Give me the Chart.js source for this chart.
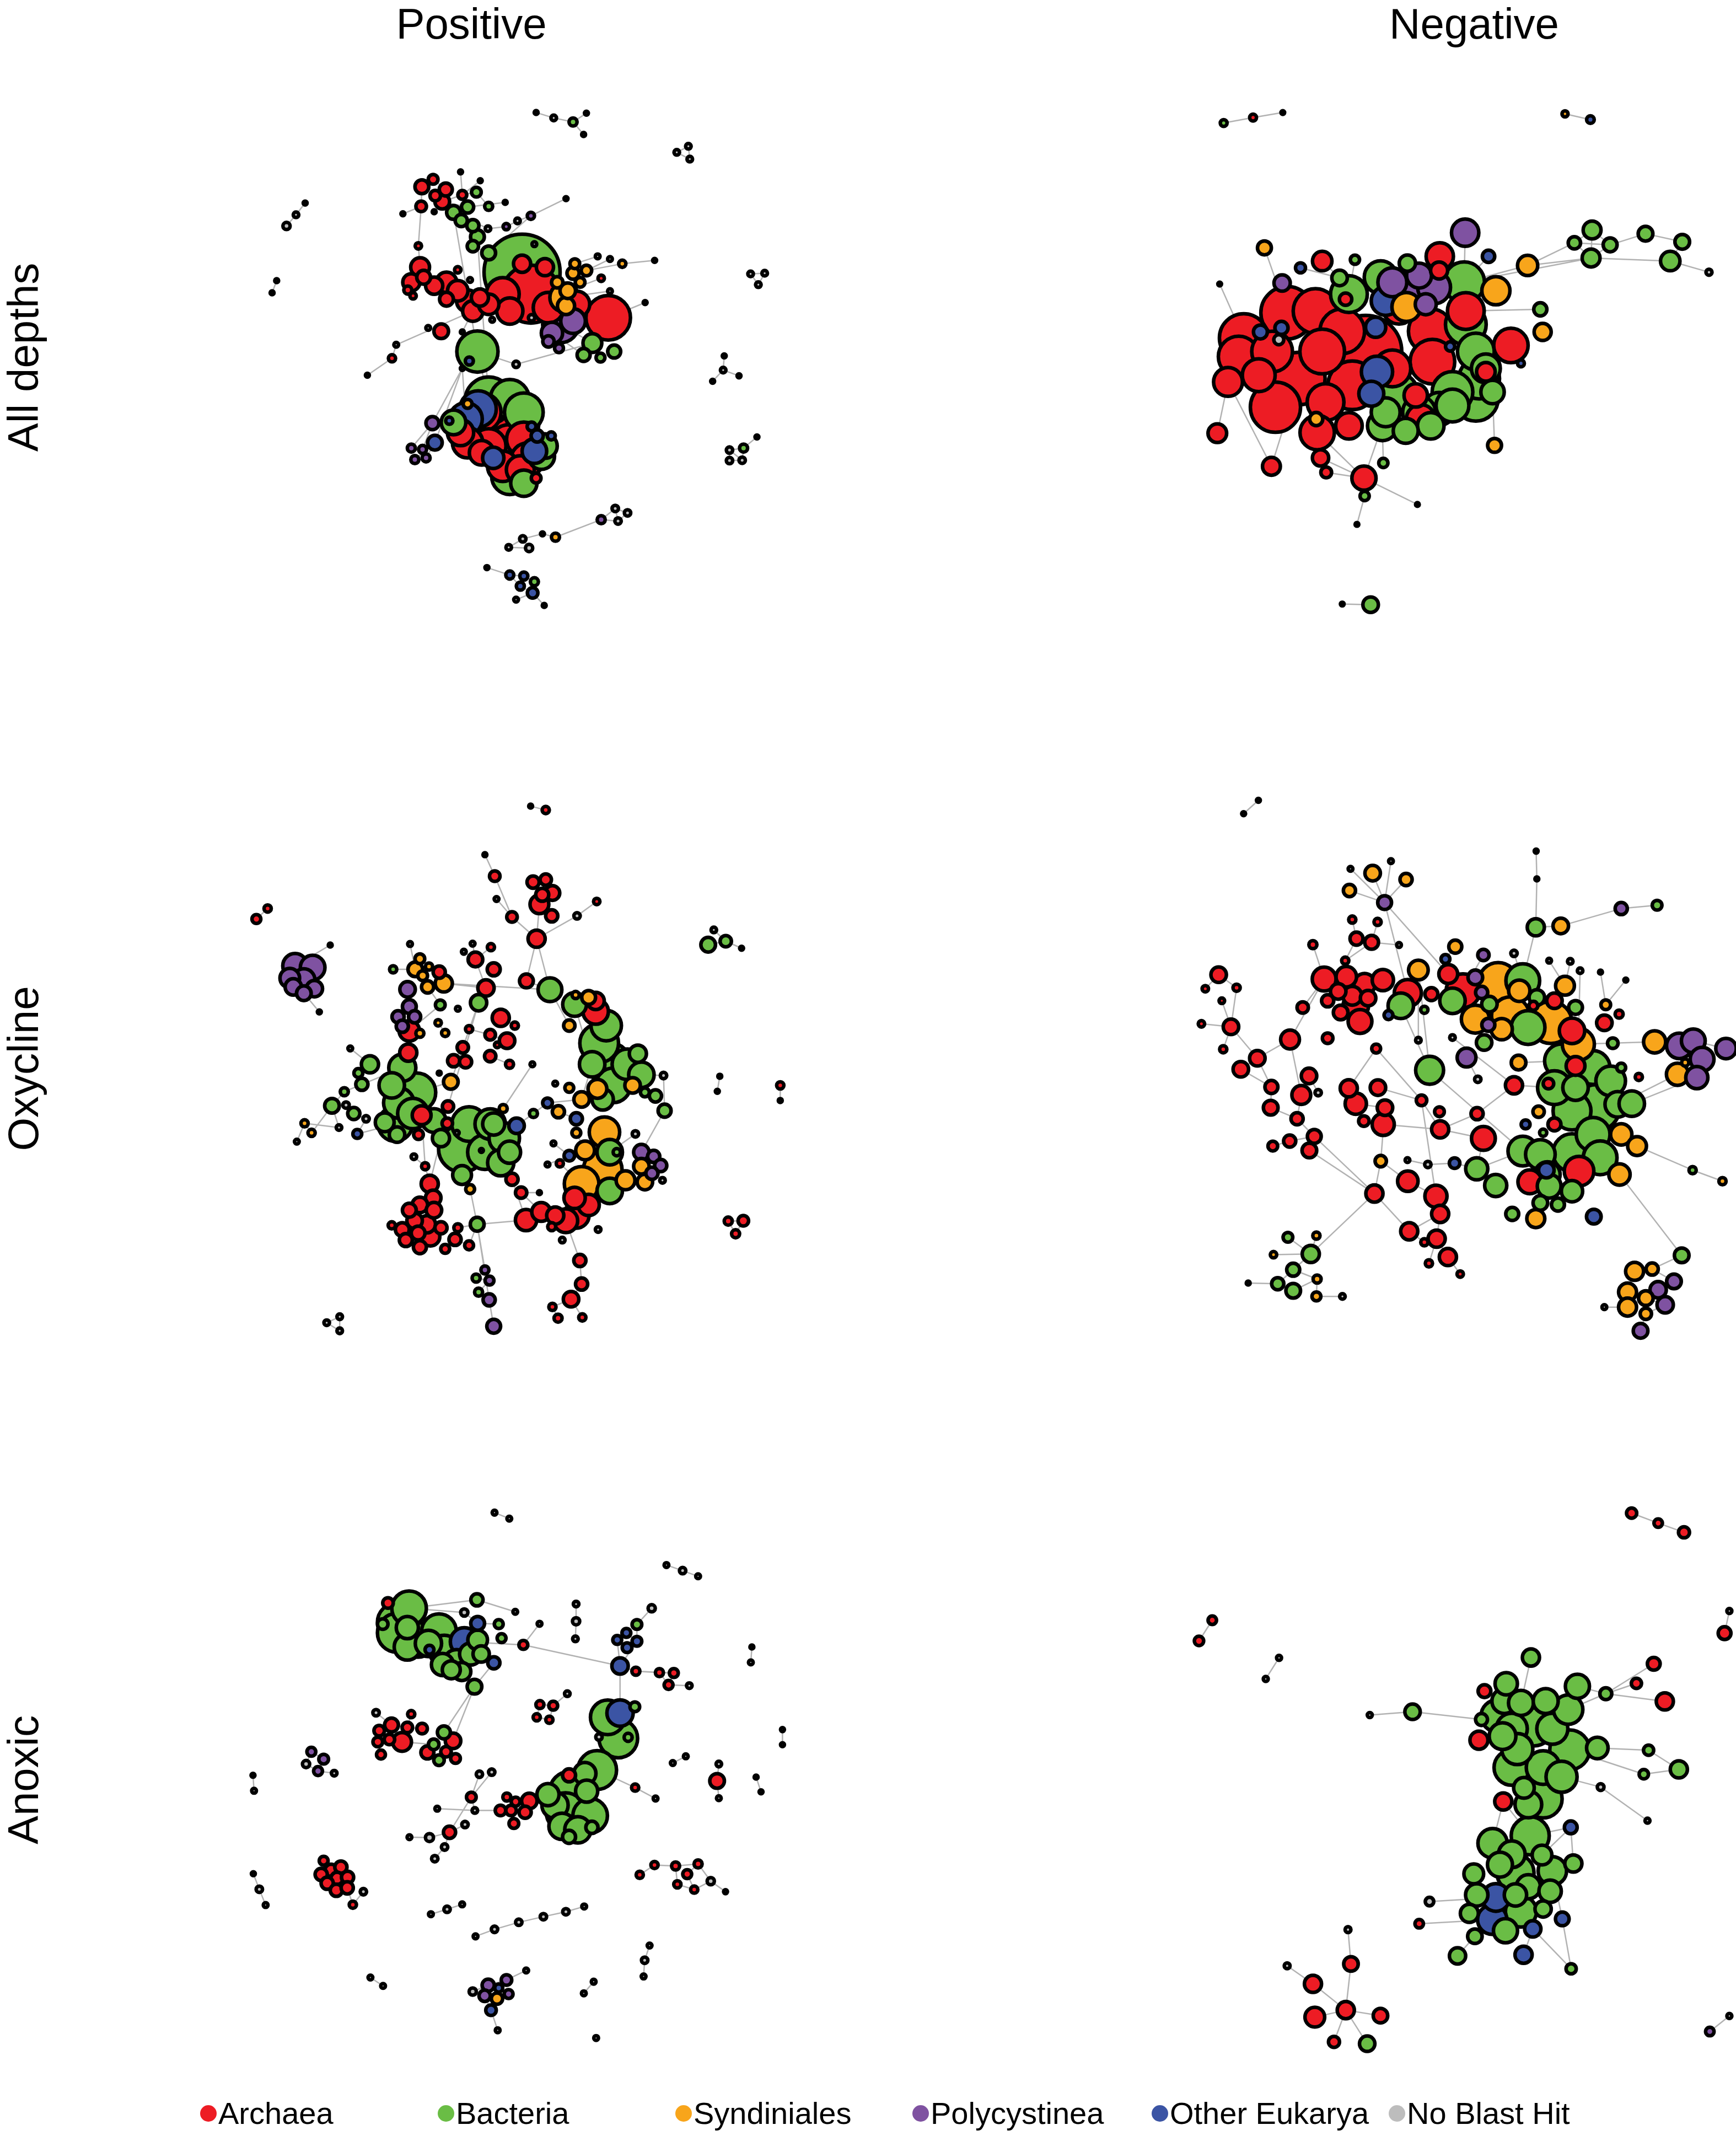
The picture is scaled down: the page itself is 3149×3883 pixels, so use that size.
<!DOCTYPE html>
<html>
<head>
<meta charset="utf-8">
<script src="https://cdn.jsdelivr.net/npm/chart.js@4.4.1/dist/chart.umd.min.js"></script>
<style>
  html, body { margin: 0; padding: 0; background: #fff; }
  body { position: relative; width: 3149px; height: 3883px; overflow: hidden;
         font-family: "Liberation Sans", Arial, Helvetica, sans-serif; color: #000; }
  canvas.net { position: absolute; }
  .colTitle { position: absolute; top: 4px; font-size: 78px; line-height: 1; transform: translateX(-50%); white-space: nowrap; }
  .rowTitle { position: absolute; font-size: 78px; line-height: 1; white-space: nowrap;
              transform: translate(-50%, -50%) rotate(-90deg); }
  .legItem { position: absolute; top: 3805px; display: flex; align-items: center; font-size: 56px; line-height: 1; white-space: nowrap; }
  .legDot { display: inline-block; width: 30px; height: 30px; border-radius: 50%; margin-right: 3px; }
</style>
</head>
<body>
<div class="colTitle" style="left:855px">Positive</div>
<div class="colTitle" style="left:2674px">Negative</div>
<div class="rowTitle" style="left:42px; top:648px">All depths</div>
<div class="rowTitle" style="left:42px; top:1938px">Oxycline</div>
<div class="rowTitle" style="left:42px; top:3228px">Anoxic</div>
<div id="legend"></div>

<script>
// taxonomic groups of the network nodes
const groupNames = ["Archaea", "Bacteria", "Syndiniales", "Polycystinea", "Other Eukarya", "No Blast Hit"];
const groupKeys = ["A", "B", "S", "P", "E", "N"];
const groupColors = { A: "#ED1C24", B: "#6ABD45", S: "#F8A51B", P: "#7F52A1", E: "#3B54A4", N: "#BDBDBD" };

// nodes: [x, y, size, group] in layout units (0..1568 across each panel), edges: [from, to]
const posAllNodes = [
  [835,72,5,"N"],[885,88,7,"N"],[940,100,10,"B"],[978,74,5,"N"],[970,137,5,"N"],
  [1235,190,7,"N"],[1268,172,7,"N"],[1272,210,7,"N"],[125,408,9,"N"],[152,375,7,"N"],
  [178,340,5,"N"],[97,570,5,"N"],[84,606,5,"N"],[1445,550,7,"N"],[1485,548,7,"N"],
  [1467,582,7,"N"],[1370,793,5,"N"],[1367,835,7,"N"],[1337,868,5,"N"],[1412,852,5,"N"],
  [1385,1072,8,"N"],[1425,1066,10,"B"],[1385,1103,8,"N"],[1421,1102,8,"N"],[1463,1033,5,"N"],
  [1020,1278,10,"P"],[1060,1245,8,"N"],[1095,1258,8,"N"],[1068,1282,8,"N"],[890,1330,10,"S"],
  [853,1320,5,"N"],[797,1335,8,"N"],[815,1362,9,"N"],[757,1360,7,"N"],[695,1420,5,"N"],
  [760,1442,10,"E"],[800,1445,10,"E"],[830,1462,10,"B"],[790,1475,10,"E"],[825,1495,13,"E"],
  [778,1515,6,"N"],[858,1532,5,"N"],
  [510,292,17,"A"],[542,270,12,"A"],[578,300,16,"A"],[548,318,13,"A"],[568,336,18,"A"],
  [508,350,13,"A"],[625,316,11,"A"],[620,248,5,"N"],[676,274,5,"N"],[665,308,12,"B"],
  [700,350,10,"B"],[640,352,15,"B"],[600,368,17,"B"],[622,392,15,"B"],[655,407,15,"B"],
  [668,440,17,"B"],[655,468,14,"B"],[700,488,17,"B"],[545,366,5,"N"],[456,372,5,"N"],
  [500,467,8,"A"],[747,338,5,"N"],[698,416,7,"N"],[750,410,8,"P"],[782,393,7,"N"],
  [820,378,9,"P"],[920,327,5,"N"],
  [795,545,92,"B"],[505,530,23,"A"],[480,575,21,"A"],[515,560,17,"A"],[545,585,21,"A"],
  [580,575,25,"A"],[612,600,25,"A"],[580,625,17,"A"],[640,630,27,"A"],[675,620,21,"A"],
  [655,660,25,"A"],[700,640,25,"A"],[740,610,40,"A"],[795,520,21,"A"],[860,530,21,"A"],
  [820,610,70,"A"],[760,660,32,"A"],[870,650,37,"A"],[950,640,32,"A"],[1040,680,54,"A"],
  [470,598,10,"A"],[485,615,8,"A"],[612,538,8,"A"],[647,568,6,"N"],[710,686,6,"N"],
  [565,720,18,"A"],[528,710,6,"N"],[625,722,5,"N"],[830,462,6,"N"],
  [945,520,12,"S"],[978,540,13,"S"],[940,548,15,"S"],[960,575,12,"S"],[895,575,14,"S"],
  [925,600,19,"S"],[915,620,35,"S"],[920,645,21,"S"],
  [905,700,44,"P"],[940,690,30,"P"],[880,725,26,"P"],[870,750,14,"P"],[900,770,11,"P"],
  [995,755,23,"B"],[970,790,16,"B"],[1018,798,11,"B"],[1057,780,16,"B"],[1010,498,6,"N"],
  [1045,506,6,"N"],[1080,520,9,"S"],[1020,563,8,"A"],[1045,601,6,"N"],[1172,510,5,"N"],
  [1145,635,5,"N"],[822,680,8,"N"],
  [668,780,50,"B"],[645,808,10,"E"],[778,818,8,"N"],[625,830,5,"N"],
  [437,760,6,"N"],[425,800,9,"A"],[355,850,5,"N"],
  [700,925,57,"B"],[760,920,47,"B"],[800,960,47,"B"],[600,990,30,"B"],[720,1000,67,"A"],
  [770,990,62,"A"],[680,960,47,"A"],[640,1050,37,"A"],[700,1060,42,"A"],[760,1060,52,"A"],
  [800,1040,42,"A"],[810,1100,40,"A"],[790,1130,34,"A"],[850,1090,32,"B"],[860,1060,30,"B"],
  [760,1150,44,"B"],[800,1170,32,"B"],[740,1120,37,"A"],[670,950,44,"E"],[635,980,40,"E"],
  [830,1075,30,"E"],[713,1095,26,"E"],[838,1030,15,"E"],[822,1002,11,"E"],[878,1030,10,"E"],
  [835,1155,12,"A"],[640,935,11,"S"],[540,992,16,"P"],[547,1050,18,"E"],[480,1066,10,"P"],
  [512,1070,10,"P"],[490,1100,10,"P"],[522,1095,10,"P"],[588,985,9,"E"],[620,1020,32,"A"],
  [680,1080,30,"A"]
];
const posAllEdges = [
  [0,1],[1,2],[2,3],[2,4],[5,6],[6,7],[5,7],[8,9],[9,10],[11,12],[13,14],[14,15],[13,15],
  [16,17],[17,18],[17,19],[20,21],[20,22],[21,23],[22,23],[20,23],[21,24],[25,26],[26,27],
  [27,28],[25,28],[26,28],[25,29],[29,30],[30,31],[31,32],[32,33],[31,33],[34,35],[35,36],
  [36,37],[35,38],[36,38],[38,39],[37,39],[39,40],[39,41],
  [42,43],[43,44],[44,45],[45,46],[42,47],[46,48],[48,49],[48,50],[48,51],[51,52],[46,53],
  [53,54],[54,55],[55,56],[56,57],[57,58],[58,59],[59,69],[47,61],[47,62],[62,70],[54,64],
  [64,65],[65,66],[66,67],[67,68],[59,67],[63,53],
  [127,128],[128,129],[127,79],[54,123],[57,130],[123,130],[123,125],[125,111],[126,149],
  [157,126],[158,126],[159,157],[160,157],[161,158],[162,158],[115,98],[116,99],[117,99],
  [120,117],[118,103],[119,104],[121,88],[111,106],[112,108],[95,94],[96,79],[97,69]
];

const negAllNodes = [
  [115,103,9,"B"],[203,87,9,"A"],[292,72,5,"N"],[1137,76,8,"S"],[1213,93,10,"E"],
  [1218,420,23,"B"],[1165,458,16,"B"],[1272,464,18,"B"],[1378,431,19,"B"],[1488,455,19,"B"],
  [1215,503,23,"B"],[1452,512,25,"B"],[1568,545,8,"N"],[1025,525,26,"S"],[838,428,35,"P"],
  [908,498,16,"E"],[930,600,36,"S"],[237,473,18,"S"],[410,512,25,"A"],[345,532,13,"E"],
  [508,508,12,"B"],[290,577,21,"P"],[103,580,5,"N"],[762,498,35,"A"],[665,518,21,"B"],
  [462,562,20,"B"],[1063,655,17,"B"],[1070,722,22,"S"],[975,762,44,"A"],[1005,815,9,"E"],
  [926,1058,18,"S"],[96,1022,24,"A"],[258,1120,23,"A"],[405,1095,21,"A"],[422,1138,14,"A"],
  [535,1155,31,"A"],[537,1208,12,"B"],[593,1110,12,"B"],[695,1233,5,"N"],[514,1292,5,"N"],
  [470,1528,5,"N"],[555,1530,20,"B"],
  [835,575,52,"B"],[585,560,42,"B"],[490,610,47,"B"],[840,700,52,"B"],[870,780,47,"B"],
  [880,860,52,"B"],[870,920,57,"B"],[800,900,52,"B"],[760,950,42,"B"],[700,960,42,"B"],
  [640,900,47,"B"],[600,960,37,"B"],[590,1000,38,"B"],[660,1015,32,"B"],[735,1000,34,"B"],
  [800,940,42,"B"],[900,830,37,"B"],[920,900,30,"B"],
  [175,740,62,"A"],[160,795,52,"A"],[128,870,37,"A"],[305,665,67,"A"],[390,660,57,"A"],
  [260,780,52,"A"],[340,860,67,"A"],[270,945,64,"A"],[420,930,47,"A"],[395,1020,44,"A"],
  [490,1000,34,"A"],[470,720,57,"A"],[540,780,92,"A"],[640,650,42,"A"],[735,720,57,"A"],
  [740,810,57,"A"],[840,660,47,"A"],[690,910,30,"A"],[705,980,37,"A"],[900,840,24,"A"],
  [480,625,16,"A"],[760,540,22,"A"],[500,880,62,"A"],[220,850,42,"A"],[410,780,57,"A"],
  [620,830,47,"A"],
  [225,722,18,"E"],[288,710,17,"E"],[570,708,26,"E"],[574,840,40,"E"],[557,905,32,"E"],
  [793,765,12,"E"],[600,630,37,"E"],[620,575,37,"P"],[690,600,52,"P"],[745,590,42,"P"],
  [700,555,32,"P"],[720,640,27,"P"],[662,648,37,"S"],[392,980,17,"S"],[280,745,13,"N"]
];
const negAllEdges = [
  [0,1],[1,2],[3,4],[5,6],[5,10],[6,10],[7,10],[6,7],[5,7],[8,7],[8,9],[9,11],[10,11],[11,12],
  [13,10],[13,6],[13,42],[10,42],[14,42],[15,42],[17,63],[18,25],[19,25],[20,44],[21,63],
  [22,60],[26,76],[28,48],[29,28],[30,59],[31,62],[32,66],[33,35],[34,35],[35,54],[36,35],
  [37,54],[38,35],[39,36],[40,41],[33,68],[32,62],[35,69]
];

const posOxyNodes = [
  [835,66,5,"N"],[878,77,9,"A"],[55,387,11,"A"],[87,357,9,"A"],
  [165,520,30,"P"],[215,525,30,"P"],[150,555,24,"P"],[190,560,27,"P"],[160,580,20,"P"],
  [190,598,18,"P"],[220,585,20,"P"],[265,461,5,"N"],[234,651,5,"N"],
  [705,204,5,"N"],[733,265,13,"A"],[738,330,6,"N"],[782,381,13,"A"],[842,282,15,"A"],
  [878,275,14,"A"],[897,313,18,"A"],[868,318,16,"A"],[860,345,23,"A"],[895,378,15,"A"],
  [852,443,21,"A"],[1023,337,8,"A"],[967,378,8,"N"],
  [1340,460,18,"B"],[1390,450,14,"B"],[1356,418,7,"N"],[1435,470,5,"N"],[1373,834,5,"N"],
  [1366,877,5,"N"],[1545,860,9,"A"],[1545,903,5,"N"],[1397,1246,10,"A"],[1440,1245,13,"A"],
  [1418,1282,10,"A"],
  [492,458,6,"N"],[444,530,9,"B"],[507,530,18,"S"],[520,500,12,"S"],[546,522,9,"S"],
  [528,548,12,"S"],[575,538,15,"A"],[542,580,15,"S"],[588,570,21,"S"],[485,587,19,"P"],
  [490,636,17,"P"],[458,665,15,"P"],[505,665,15,"P"],[470,692,15,"P"],[490,705,25,"A"],
  [520,712,10,"S"],[487,767,21,"A"],[578,631,12,"B"],[628,642,6,"N"],[572,682,8,"S"],
  [592,711,9,"S"],[608,850,18,"S"],
  [670,457,6,"N"],[645,480,6,"N"],[678,502,18,"A"],[722,467,9,"A"],[730,530,16,"A"],
  [708,583,20,"A"],[687,625,20,"B"],[823,563,17,"A"],[890,588,29,"B"],[750,668,21,"A"],
  [790,690,9,"A"],[660,700,9,"A"],[720,716,13,"A"],[768,733,19,"A"],[740,745,7,"A"],
  [642,752,14,"A"],[616,790,15,"A"],[650,793,15,"A"],[720,777,14,"A"],[775,800,10,"A"],
  [840,800,6,"N"],[575,825,5,"N"],[322,755,6,"N"],
  [378,800,21,"B"],[345,825,11,"B"],[355,857,15,"B"],[305,878,10,"B"],[270,918,18,"B"],
  [310,916,8,"N"],[332,940,15,"B"],[367,955,8,"N"],[342,998,11,"E"],[290,980,7,"N"],
  [192,968,9,"S"],[212,995,9,"S"],[170,1020,6,"N"],
  [470,810,33,"B"],[440,860,31,"B"],[510,880,47,"B"],[460,910,37,"B"],[500,940,37,"B"],
  [450,970,42,"B"],[420,965,23,"B"],[455,1000,19,"B"],[525,945,23,"A"],[516,1000,12,"A"],
  [560,960,29,"B"],[580,1010,21,"B"],
  [640,1040,57,"B"],[660,970,42,"B"],[720,970,37,"B"],[760,1010,37,"B"],[750,1080,32,"B"],
  [705,1050,42,"B"],[775,1050,27,"B"],[640,1115,23,"B"],[598,968,13,"A"],[600,920,14,"A"],
  [730,970,27,"B"],[795,975,19,"E"],[782,1127,15,"A"],[663,1155,11,"S"],[625,995,6,"N"],
  [695,1045,5,"N"],
  [757,926,10,"S"],[843,940,10,"B"],[883,910,12,"E"],[914,935,15,"S"],[905,855,6,"N"],
  [945,867,11,"S"],[980,900,19,"S"],[965,955,15,"E"],[965,995,11,"S"],[1133,998,8,"N"],
  [900,1025,6,"N"],[883,1085,6,"N"],[918,1082,9,"A"],[860,1165,5,"N"],[808,1165,14,"A"],
  [963,603,9,"S"],[1000,610,17,"S"],[960,630,29,"B"],[1020,650,31,"A"],[1020,620,21,"A"],
  [945,690,14,"S"],[1050,690,37,"B"],[1030,740,47,"B"],[1060,800,52,"B"],[1010,800,31,"B"],
  [1110,800,37,"B"],[1140,770,21,"B"],[1150,830,31,"B"],[1070,860,42,"B"],[1125,860,19,"S"],
  [1025,870,23,"S"],[1160,880,11,"B"],[1190,890,15,"B"],[1213,832,8,"N"],[1216,932,16,"B"],
  [1040,900,26,"B"],
  [1045,993,37,"S"],[1040,1100,47,"S"],[980,1140,42,"S"],[990,1045,23,"S"],[1060,1050,31,"B"],
  [1105,1130,23,"S"],[1150,1050,19,"P"],[1185,1062,15,"P"],[1205,1088,15,"P"],[1150,1090,19,"S"],
  [1180,1110,15,"P"],[1160,1135,19,"S"],[1210,1130,7,"N"],[1060,1160,31,"B"],[1080,1050,9,"B"],
  [945,1060,13,"E"],
  [822,1243,26,"A"],[865,1220,23,"A"],[905,1230,21,"A"],[935,1245,29,"A"],[965,1230,31,"A"],
  [1000,1200,26,"A"],[960,1180,26,"A"],[895,1262,10,"A"],[925,1300,7,"N"],[1027,1270,7,"N"],
  [548,1140,21,"A"],[558,1180,19,"A"],[520,1200,19,"A"],[490,1215,17,"A"],[560,1215,19,"A"],
  [505,1245,19,"A"],[540,1255,21,"A"],[470,1270,17,"A"],[515,1280,17,"A"],[550,1290,23,"A"],
  [480,1300,16,"A"],[520,1320,16,"A"],[580,1265,15,"A"],[440,1258,9,"A"],[628,1265,10,"A"],
  [620,1298,15,"A"],[592,1325,11,"A"],[660,1315,11,"A"],[683,1255,17,"B"],[535,1090,9,"A"],
  [503,1063,7,"N"],
  [705,1385,10,"P"],[680,1408,10,"B"],[718,1415,11,"P"],[687,1448,10,"B"],[717,1470,15,"P"],
  [730,1545,17,"P"],[975,1358,15,"A"],[980,1425,15,"A"],[950,1468,19,"A"],[897,1490,9,"A"],
  [913,1522,10,"A"],[982,1520,9,"A"],[255,1535,7,"N"],[292,1518,7,"N"],[292,1558,7,"N"]
];
const posOxyEdges = [
  [0,1],[2,3],[4,11],[9,12],[13,14],[14,16],[15,16],[16,23],[17,21],[23,21],[24,25],[25,23],
  [23,67],[23,66],[26,27],[27,28],[27,29],[30,31],[32,33],[34,35],[35,36],[34,36],[37,39],
  [38,39],[45,67],[45,64],[66,67],[61,62],[59,61],[60,61],[61,64],[64,65],[65,58],[58,97],
  [68,69],[70,71],[71,72],[74,75],[75,76],[77,78],[79,123],[81,82],[82,83],[83,84],[84,85],
  [85,86],[86,87],[87,88],[88,89],[89,90],[86,91],[91,92],[92,93],[92,94],[93,86],[90,100],
  [85,95],[67,143],[143,140],[140,147],[147,129],[129,125],[125,124],[124,118],[118,109],
  [126,130],[130,131],[131,162],[156,150],[157,156],[157,165],[132,163],[133,174],[134,174],
  [135,161],[136,137],[137,176],[119,175],[175,203],[203,199],[203,206],[206,207],[207,208],
  [208,209],[209,210],[210,211],[203,210],[185,204],[204,205],[204,103],[178,212],[212,213],
  [213,214],[214,215],[215,216],[214,217],[218,219],[219,220],[218,220],[107,203],[114,120],
  [120,203],[200,202],[202,203],[185,106],[65,116],[54,44],[56,57],[51,54]
];

const negOxyNodes = [
  [998,72,5,"N"],[1000,155,5,"N"],[997,300,21,"B"],[1068,296,19,"S"],[1240,244,15,"P"],
  [1342,234,12,"B"],[470,125,6,"N"],[585,102,6,"N"],[533,138,19,"S"],[628,157,15,"S"],
  [467,190,15,"S"],[567,226,17,"P"],[475,277,9,"A"],[547,284,9,"A"],[487,334,16,"A"],
  [530,345,17,"A"],[363,352,10,"A"],[608,353,6,"N"],[455,400,9,"A"],[768,358,16,"S"],
  [740,395,11,"E"],[848,383,14,"P"],[935,378,8,"N"],[663,428,24,"S"],[95,442,19,"A"],
  [57,484,8,"A"],[146,481,9,"A"],[104,520,7,"A"],[46,589,8,"A"],[130,598,19,"A"],
  [108,665,9,"A"],[158,725,19,"A"],[205,692,19,"A"],[298,636,23,"A"],[334,540,14,"A"],
  [405,632,13,"A"],
  [395,455,29,"A"],[458,448,25,"A"],[510,470,26,"A"],[562,458,26,"A"],[435,492,19,"A"],
  [475,505,23,"A"],[520,512,19,"A"],[405,520,15,"A"],[485,535,31,"A"],[442,555,18,"A"],
  [497,582,29,"A"],[633,497,33,"A"],[700,500,16,"A"],[613,535,31,"B"],[680,547,9,"B"],
  [578,563,11,"E"],[748,440,23,"A"],[790,490,41,"A"],[825,450,18,"P"],[843,495,15,"P"],
  [760,520,31,"B"],[890,465,48,"S"],[950,490,26,"S"],[960,460,41,"B"],[825,575,34,"S"],
  [925,565,46,"S"],[865,530,19,"B"],[862,592,16,"P"],[900,605,26,"S"],[850,645,19,"B"],
  [975,600,41,"B"],[1000,510,19,"B"],[1050,520,19,"A"],[990,535,11,"A"],[1040,585,51,"S"],
  [1110,540,17,"B"],[1100,610,31,"A"],[1118,650,39,"S"],[1035,400,6,"N"],[1095,402,7,"N"],
  [1123,430,7,"N"],[1181,434,5,"N"],[1253,458,5,"N"],[1080,475,23,"S"],[1196,532,12,"S"],
  [1234,560,10,"A"],[1192,586,19,"A"],[1216,647,13,"B"],[1335,643,27,"S"],
  [1405,655,31,"P"],[1445,640,29,"P"],[1470,695,29,"P"],[1538,663,25,"P"],[1422,705,9,"S"],
  [1400,740,27,"S"],[1455,750,27,"P"],
  [1070,700,41,"B"],[1160,720,41,"B"],[1210,760,36,"B"],[1050,780,41,"B"],[1110,780,31,"B"],
  [1100,850,46,"B"],[1170,840,56,"B"],[1230,830,31,"B"],[1270,828,31,"B"],[1110,715,23,"A"],
  [1033,768,13,"A"],[1050,890,16,"A"],[1160,920,41,"B"],[1240,920,26,"S"],[1285,955,23,"S"],
  [1240,720,11,"B"],[1290,748,9,"A"],[960,970,36,"B"],[1010,980,36,"B"],[1100,975,46,"B"],
  [1180,990,41,"B"],[1030,1040,31,"B"],[1120,1030,36,"A"],[1027,1027,19,"E"],[980,1062,29,"A"],
  [1035,1075,29,"B"],[1100,1090,26,"B"],[1010,1125,18,"B"],[1060,1130,16,"B"],[1235,1040,26,"S"],
  [997,1172,22,"S"],[930,1158,16,"B"],[1162,1166,18,"E"],[1018,915,9,"B"],[1005,852,14,"S"],
  [968,890,11,"E"],
  [695,728,34,"B"],[800,690,23,"P"],[948,705,18,"S"],[935,773,21,"A"],[832,755,8,"N"],
  [760,630,7,"N"],[663,638,7,"N"],[543,663,11,"A"],[352,745,19,"A"],[378,795,8,"N"],
  [465,782,21,"A"],[548,780,19,"A"],[485,828,26,"A"],[568,840,19,"A"],[508,880,13,"A"],
  [563,890,27,"A"],[672,818,13,"A"],[723,852,12,"A"],[725,905,21,"A"],[830,858,15,"A"],
  [848,932,29,"A"],[330,802,23,"A"],[245,778,16,"A"],[243,840,18,"A"],[318,873,15,"A"],
  [367,926,17,"A"],[297,940,15,"A"],[249,955,12,"A"],[353,968,18,"A"],[556,1000,14,"S"],
  [632,997,6,"N"],[690,1010,8,"N"],[766,1006,13,"E"],[829,1023,27,"B"],[883,1073,27,"B"],
  [538,1097,21,"A"],[633,1060,25,"A"],[713,1105,27,"A"],[725,1158,21,"A"],[637,1210,21,"A"],
  [715,1232,21,"A"],[680,1243,9,"A"],[747,1287,21,"A"],[693,1306,9,"A"],[782,1338,8,"A"],
  [357,1278,21,"B"],[292,1228,12,"B"],[373,1223,9,"S"],[251,1280,8,"S"],[307,1325,16,"B"],
  [263,1367,15,"B"],[307,1388,18,"B"],[375,1353,10,"S"],[373,1405,11,"S"],[447,1405,7,"N"],
  [179,1365,5,"N"],
  [1412,1282,18,"B"],[1328,1323,15,"S"],[1278,1330,22,"S"],[1390,1360,18,"P"],[1345,1385,20,"P"],
  [1258,1392,22,"S"],[1310,1410,18,"S"],[1365,1430,20,"P"],[1258,1437,22,"S"],[1310,1457,14,"S"],
  [1295,1508,18,"P"],[1192,1437,6,"N"],[1443,1027,9,"B"],[1528,1060,9,"S"],[166,-40,5,"N"],
  [208,-80,5,"N"]
];
const negOxyEdges = [
  [0,1],[1,2],[2,59],[2,3],[3,4],[4,5],[6,11],[7,11],[8,11],[9,11],[10,11],[11,52],[12,14],
  [13,15],[14,18],[15,18],[16,36],[18,37],[24,26],[24,25],[26,29],[27,29],[28,29],[29,30],
  [29,32],[32,31],[32,33],[33,36],[34,36],[32,150],[150,151],[151,152],[152,153],[153,154],
  [154,155],[153,156],[149,136],[136,137],[31,150],[149,152],[33,149],[153,163],[156,163],
  [163,173],[173,174],[173,175],[173,176],[173,177],[173,178],[177,178],[177,180],[179,180],
  [180,181],[181,182],[178,183],[163,167],[167,169],[167,166],[165,166],[164,165],[166,168],
  [168,170],[168,171],[170,172],[157,141],[158,159],[159,160],[160,161],[161,162],[161,109],
  [165,144],[144,146],[145,146],[146,147],[147,131],[146,148],[148,161],[128,109],[128,23],
  [134,23],[49,128],[135,144],[138,135],[140,141],[139,144],[143,146],[142,140],[84,85],
  [84,73],[85,86],[86,87],[86,88],[89,90],[90,91],[90,99],[91,100],[106,196],[196,197],
  [121,184],[184,185],[185,186],[185,187],[186,189],[187,188],[188,190],[189,192],[190,191],
  [191,193],[192,195],[193,194],[189,190],[76,73],[77,80],[78,80],[74,79],[75,79],[198,199],
  [130,92],[131,95],[132,129],[133,131],[19,20],[20,52],[21,53],[17,15],[22,59],[47,11],
  [157,163],[164,157]
];

const posAnoxNodes = [
  [748,68,6,"N"],[790,85,6,"N"],[1237,217,6,"N"],[1283,233,8,"N"],[1327,249,6,"N"],
  [445,325,13,"A"],[505,340,42,"B"],[470,380,47,"B"],[430,385,13,"B"],[470,410,47,"B"],
  [500,395,27,"B"],[530,430,42,"B"],[590,405,42,"B"],[500,450,32,"B"],[560,440,32,"B"],
  [605,460,37,"B"],[600,500,27,"B"],[640,495,32,"B"],[680,470,27,"B"],[700,430,24,"B"],
  [710,470,20,"B"],[655,520,22,"B"],[625,515,22,"B"],[662,435,34,"E"],[700,383,17,"E"],
  [563,458,11,"E"],[746,495,15,"E"],[698,316,15,"B"],[662,352,9,"N"],[760,385,11,"B"],
  [768,425,11,"B"],[807,350,6,"N"],[691,563,18,"B"],[830,444,11,"A"],[876,384,6,"N"],
  [980,328,7,"N"],[980,377,9,"N"],[978,427,7,"N"],
  [1195,340,9,"N"],[1153,386,12,"B"],[1123,410,11,"E"],[1097,430,11,"E"],[1125,452,12,"E"],
  [1153,434,12,"E"],[1105,504,20,"E"],[1150,519,10,"A"],[1217,523,10,"A"],[1258,524,11,"A"],
  [1243,558,11,"A"],[1302,560,7,"N"],[1480,450,5,"N"],[1477,494,6,"N"],
  [955,583,7,"N"],[877,614,10,"A"],[915,617,11,"A"],[868,650,9,"A"],[904,657,9,"A"],
  [1070,650,42,"B"],[1105,638,32,"E"],[1147,620,12,"B"],[1100,710,47,"B"],[1128,707,10,"B"],
  [1045,706,8,"N"],[1040,800,47,"B"],[1005,810,27,"B"],[960,860,47,"B"],[1010,860,27,"B"],
  [920,900,32,"B"],[950,920,47,"B"],[1020,930,42,"B"],[940,960,32,"B"],[985,970,32,"B"],
  [900,870,27,"B"],[960,990,16,"B"],[1025,963,15,"B"],[960,815,16,"A"],
  [783,877,10,"A"],[808,890,11,"A"],[847,888,19,"A"],[765,915,13,"A"],[795,915,13,"A"],
  [835,920,15,"A"],[803,952,12,"A"],[682,877,12,"A"],[692,915,7,"N"],[705,812,8,"N"],
  [740,806,8,"N"],[585,910,6,"N"],[664,955,8,"N"],[620,977,15,"A"],[563,992,10,"N"],
  [506,991,6,"N"],[606,1019,8,"N"],[578,1052,8,"N"],
  [411,637,8,"N"],[455,672,17,"A"],[511,641,9,"A"],[500,679,13,"A"],[542,682,13,"A"],
  [420,688,13,"A"],[449,713,13,"A"],[416,720,12,"A"],[485,720,23,"A"],[425,756,11,"A"],
  [604,693,16,"B"],[630,717,19,"A"],[575,727,13,"B"],[557,750,16,"A"],[610,748,13,"A"],
  [590,772,13,"B"],[637,767,12,"A"],
  [227,748,11,"P"],[212,783,9,"N"],[262,769,12,"P"],[246,803,11,"P"],[292,809,7,"N"],
  [61,815,5,"N"],[64,859,6,"N"],
  [1255,780,6,"N"],[1292,761,6,"N"],[1386,783,7,"N"],[1381,831,18,"A"],[1386,880,6,"N"],
  [1492,820,5,"N"],[1506,862,5,"N"],[1148,850,9,"A"],[1206,881,6,"N"],[1567,685,5,"N"],
  [1567,728,5,"N"],
  [262,1058,11,"A"],[283,1085,15,"A"],[311,1076,15,"A"],[255,1097,15,"A"],[300,1108,15,"A"],
  [330,1105,15,"A"],[272,1122,15,"A"],[298,1142,15,"A"],[329,1135,15,"A"],[375,1146,8,"N"],
  [345,1183,9,"A"],[62,1095,5,"N"],[79,1139,8,"N"],[97,1184,6,"N"],
  [1161,1098,9,"A"],[1203,1070,9,"A"],[1263,1073,10,"A"],[1327,1067,10,"A"],[1296,1096,11,"A"],
  [1268,1125,9,"A"],[1316,1140,9,"A"],[1363,1116,9,"N"],[1405,1146,5,"N"],
  [567,1210,6,"N"],[613,1196,8,"N"],[656,1182,6,"N"],[694,1273,6,"N"],[748,1253,8,"N"],
  [817,1233,8,"N"],[887,1217,8,"N"],[951,1203,8,"N"],[1003,1188,6,"N"],[1189,1299,6,"N"],
  [1175,1341,8,"N"],[1172,1387,6,"N"],[395,1390,6,"N"],[431,1414,6,"N"],[1030,1402,6,"N"],
  [1002,1435,6,"N"],
  [686,1430,9,"N"],[730,1412,15,"P"],[760,1420,10,"E"],[782,1397,13,"P"],[720,1442,14,"P"],
  [755,1450,14,"S"],[788,1437,11,"P"],[738,1483,13,"E"],[838,1370,6,"N"],[757,1540,6,"N"],
  [1037,1562,6,"N"]
];
const posAnoxEdges = [
  [0,1],[2,3],[3,4],[6,27],[27,31],[28,24],[29,24],[23,33],[33,44],[33,34],[35,36],[36,37],
  [38,39],[39,43],[40,41],[41,42],[42,43],[40,43],[41,44],[43,44],[44,45],[45,46],[45,47],
  [46,48],[47,48],[48,49],[46,47],[44,58],[50,51],[52,54],[53,54],[53,55],[54,56],[55,56],
  [32,104],[32,105],[32,26],[95,94],[95,97],[96,97],[97,98],[99,100],[100,102],[101,102],
  [103,101],[102,106],[106,107],[107,109],[108,110],[104,105],[111,113],[112,114],[113,114],
  [114,115],[111,112],[116,117],[118,119],[120,121],[121,122],[123,124],[125,126],[125,63],
  [127,128],[129,130],[138,139],[137,139],[140,141],[141,142],[143,144],[144,145],[145,146],
  [145,148],[146,147],[147,149],[148,149],[149,150],[150,151],[146,150],[152,153],[153,154],
  [155,156],[156,157],[157,158],[158,159],[159,160],[161,162],[162,163],[164,165],[166,167],
  [168,169],[169,171],[171,176],[172,175],[175,177],[173,174],[85,83],[86,83],[83,84],[83,89],
  [89,90],[90,91],[89,92],[92,93],[87,84],[88,89],[84,79],[78,72],[6,28]
];

const negAnoxNodes = [
  [1285,96,12,"A"],[1357,123,10,"A"],[1427,148,13,"A"],[148,386,10,"A"],[112,442,11,"A"],
  [329,488,6,"N"],[293,545,6,"N"],[1550,361,6,"N"],[1537,421,15,"A"],[575,643,6,"N"],
  [691,634,18,"B"],
  [1012,487,20,"B"],[945,558,26,"B"],[886,578,15,"A"],[1138,565,28,"B"],[940,605,29,"B"],
  [985,610,29,"B"],[1052,605,29,"B"],[1113,628,34,"B"],[920,645,37,"B"],[878,655,14,"B"],
  [960,680,36,"B"],[1020,675,44,"B"],[1070,680,36,"B"],[935,700,31,"B"],[871,711,21,"A"],
  [1117,737,46,"B"],[1192,732,25,"B"],[975,735,36,"B"],[960,785,41,"B"],[1045,785,39,"B"],
  [1095,810,36,"B"],[993,840,24,"B"],[1045,870,44,"B"],[1005,885,31,"B"],[937,877,20,"A"],
  [1010,970,44,"B"],[908,990,34,"B"],[960,1020,31,"B"],[1042,1022,23,"B"],[928,1048,29,"B"],
  [970,1070,43,"B"],[1070,1065,33,"B"],[1127,1045,20,"B"],[1005,1108,28,"B"],[1064,1120,26,"B"],
  [857,1073,23,"B"],[865,1130,26,"B"],[970,1130,26,"B"],[985,1175,36,"B"],[1045,1168,19,"B"],
  [845,1180,21,"B"],[943,1227,28,"B"],[917,1137,32,"E"],[907,1197,34,"E"],[1120,947,15,"E"],
  [1017,1222,19,"E"],[1097,1195,16,"E"],[992,1292,20,"E"],[860,1242,17,"B"],[813,1295,19,"B"],
  [1121,1330,12,"B"],[737,1148,10,"N"],[709,1208,10,"A"],
  [1215,585,14,"B"],[1298,557,12,"A"],[1345,504,15,"A"],[1375,606,20,"A"],[1331,738,12,"B"],
  [1413,790,20,"B"],[1318,803,11,"B"],[1201,838,8,"N"],[1328,929,6,"N"],
  [516,1224,7,"N"],[524,1317,17,"A"],[351,1322,7,"N"],[421,1371,20,"A"],[510,1442,20,"A"],
  [426,1461,23,"A"],[604,1457,17,"A"],[478,1528,13,"A"],[568,1533,18,"B"],[1550,1458,6,"N"],
  [1497,1500,10,"P"]
];
const negAnoxEdges = [
  [0,1],[1,2],[3,4],[5,6],[7,8],[9,10],[10,20],[11,16],[14,64],[64,65],[64,66],[64,67],
  [27,68],[68,69],[69,70],[70,26],[71,72],[71,31],[55,36],[55,39],[62,53],[63,54],[61,57],
  [61,56],[59,60],[35,36],[35,37],[74,73],[74,77],[75,76],[76,77],[77,78],[77,79],[77,80],
  [77,81],[58,56],[43,55],[82,83],[57,42],[18,64]
];

// page placement of each panel: [left, top, width, height] in page pixels
const panels = [
  { nodes: posAllNodes,  edges: posAllEdges,  box: [440, 160, 1000, 960] },
  { nodes: negAllNodes,  edges: negAllEdges,  box: [2150, 160, 950, 960] },
  { nodes: posOxyNodes,  edges: posOxyEdges,  box: [430, 1420, 1000, 1000] },
  { nodes: negOxyNodes,  edges: negOxyEdges,  box: [2150, 1500, 1000, 950] },
  { nodes: posAnoxNodes, edges: posAnoxEdges, box: [420, 2700, 1000, 1000] },
  { nodes: negAnoxNodes, edges: negAnoxEdges, box: [2100, 2680, 1049, 1050] }
];

const UNITS = 1568;
const PAD = 80;
const NODE_BORDER = 6.5;

panels.forEach(p => {
  const [left, top, w, h] = p.box;
  const canvas = document.createElement("canvas");
  canvas.className = "net";
  canvas.width = w + 2 * PAD;
  canvas.height = h + 2 * PAD;
  canvas.style.left = (left - PAD) + "px";
  canvas.style.top = (top - PAD) + "px";
  document.body.appendChild(canvas);

  const k = w / UNITS;
  const padX = PAD * UNITS / w;
  const padY = PAD * UNITS / h;

  // edges as one broken line: pairs of points separated by gaps
  const edgeData = [];
  p.edges.forEach(([a, b]) => {
    const na = p.nodes[a], nb = p.nodes[b];
    edgeData.push({ x: na[0], y: na[1] }, { x: nb[0], y: nb[1] }, { x: null, y: null });
  });

  // outer radius in px, minus half the border; big nodes first so small ones stay on top
  const nodeData = p.nodes
    .map(n => ({ x: n[0], y: n[1], r: Math.max(n[2] * k * 1.18 + 3 - NODE_BORDER / 2, 0.6), g: n[3] }))
    .sort((a, b) => b.r - a.r);

  new Chart(canvas, {
    type: "bubble",
    data: {
      datasets: [
        {
          type: "line",
          data: edgeData,
          borderColor: "rgba(165,165,165,0.85)",
          borderWidth: 2.5,
          pointRadius: 0,
          fill: false,
          tension: 0,
          spanGaps: false,
          clip: false,
          order: 2
        },
        {
          data: nodeData,
          backgroundColor: c => (c.raw ? groupColors[c.raw.g] : "#000"),
          borderColor: "#000",
          borderWidth: NODE_BORDER,
          clip: false,
          order: 1
        }
      ]
    },
    options: {
      responsive: false,
      animation: false,
      devicePixelRatio: 1,
      events: [],
      layout: { autoPadding: false, padding: 0 },
      scales: {
        x: { type: "linear", min: -padX, max: UNITS + padX, display: false },
        y: { type: "linear", min: -padY, max: UNITS + padY, reverse: true, display: false }
      },
      plugins: { legend: { display: false }, tooltip: { enabled: false } }
    }
  });
});

// legend along the bottom
const legendX = [378, 809, 1240, 1670, 2104, 2534];
const legend = document.getElementById("legend");
groupNames.forEach((name, i) => {
  const item = document.createElement("div");
  item.className = "legItem";
  item.style.left = (legendX[i] - 15) + "px";
  item.innerHTML = '<span class="legDot" style="background:' + groupColors[groupKeys[i]] + '"></span>' + name;
  legend.appendChild(item);
});
</script>
</body>
</html>
